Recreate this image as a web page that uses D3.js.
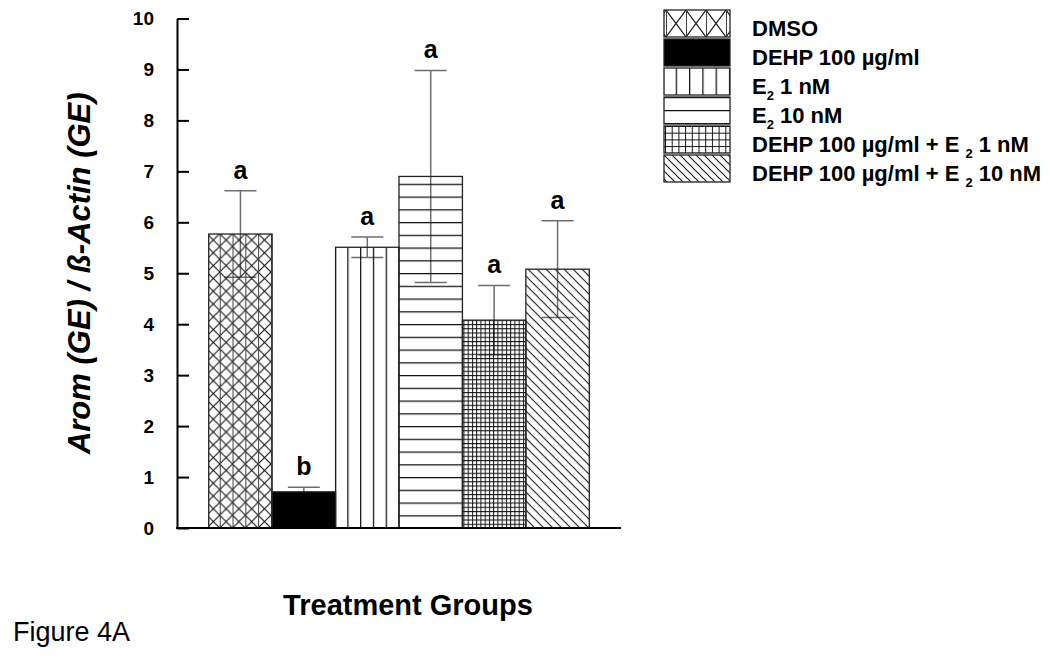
<!DOCTYPE html>
<html>
<head>
<meta charset="utf-8">
<script src="https://cdn.jsdelivr.net/npm/d3@7"></script>
<style>
  body { margin: 0; background: #fff; }
  svg { display: block; font-family: "Liberation Sans", Arial, sans-serif; }
</style>
</head>
<body>
<svg id="chart" width="1050" height="656"></svg>
<script>
// data
let groups = ["DMSO", "DEHP 100 µg/ml", "E2 1 nM", "E2 10 nM", "DEHP 100 µg/ml + E2 1 nM", "DEHP 100 µg/ml + E2 10 nM"];
let means = [5.77, 0.71, 5.51, 6.90, 4.08, 5.08];
let errors = [0.85, 0.09, 0.20, 2.08, 0.68, 0.95];
let letters = ["a", "b", "a", "a", "a", "a"];
let fills = ["cross", "solid", "vert", "horiz", "grid", "diag"];
let yTicks = [0, 1, 2, 3, 4, 5, 6, 7, 8, 9, 10];
// legend text, split where the subscript 2 goes
let legendParts = [
  [{t: "DMSO"}],
  [{t: "DEHP 100 µg/ml"}],
  [{t: "E"}, {t: "2", sub: true}, {t: " 1 nM"}],
  [{t: "E"}, {t: "2", sub: true}, {t: " 10 nM"}],
  [{t: "DEHP 100 µg/ml + E "}, {t: "2", sub: true}, {t: " 1 nM"}],
  [{t: "DEHP 100 µg/ml + E "}, {t: "2", sub: true}, {t: " 10 nM"}]
];

let margin = {top: 18.5, bottom: 528, left: 177, right: 621};

let svg = d3.select("#chart");
let defs = svg.append("defs");

let x = d3.scaleBand(groups, [margin.left, margin.right]).paddingInner(0).paddingOuter(0.5);
let y = d3.scaleLinear([0, 10], [margin.bottom, margin.top]);

// pattern tiles; sizes differ a bit between bars and legend swatches
function makePattern(id, kind, x0, y0, big) {
  let p = defs.append("pattern")
    .attr("id", id)
    .attr("patternUnits", "userSpaceOnUse");
  let line = "#111";
  if (kind == "cross") {
    let w = big ? 20 : 12.8, h = big ? 27 : 12.8;
    p.attr("width", w).attr("height", h).attr("x", x0 + (big ? 2 : 11)).attr("y", y0);
    p.append("path")
      .attr("d", `M0,0L${w},${h}M${w},0L0,${h}`)
      .attr("stroke", line).attr("stroke-width", 1.1).attr("fill", "none");
    p.append("path")
      .attr("d", `M0.5,0V${h}`)
      .attr("stroke", "#444").attr("stroke-width", 1.1);
  } else if (kind == "vert") {
    let w = big ? 13.3 : 12.8;
    p.attr("width", w).attr("height", 10).attr("x", x0 + 11.7).attr("y", 0);
    p.append("path").attr("d", "M0.6,0V10").attr("stroke", line).attr("stroke-width", 1.3);
  } else if (kind == "horiz") {
    let h = big ? 13 : 12.75;
    p.attr("width", 10).attr("height", h).attr("x", 0).attr("y", y0);
    p.append("path").attr("d", "M0,0.6H10").attr("stroke", line).attr("stroke-width", 1.3);
  } else if (kind == "grid") {
    let s = big ? 6.7 : 4.25;
    p.attr("width", s).attr("height", s).attr("x", x0 + 1).attr("y", y0);
    p.append("path").attr("d", `M0.5,0V${s}M0,0.5H${s}`).attr("stroke", line).attr("stroke-width", 1);
  } else if (kind == "diag") {
    let s = big ? 8 : 9;
    p.attr("width", s).attr("height", s).attr("x", x0).attr("y", y0);
    p.append("path")
      .attr("d", `M-1,-1L${s + 1},${s + 1}M-1,${s - 1}L1,${s + 1}M${s - 1},-1L${s + 1},1`)
      .attr("stroke", "#222").attr("stroke-width", 1.2).attr("fill", "none");
  }
}

function fillFor(kind, id) {
  return kind == "solid" ? "#000" : `url(#${id})`;
}

groups.forEach((g, i) => {
  makePattern("bar" + i, fills[i], x(g), y(0), false);
});

// error bars first: the pattern gaps are see-through, like the original
let eb = svg.append("g")
  .attr("stroke", "#6e6e6e")
  .attr("stroke-width", 1.5)
  .attr("fill", "none");
let capW = 16;
groups.forEach((g, i) => {
  let cx = x(g) + x.bandwidth() / 2;
  let hi = y(means[i] + errors[i]), lo = y(means[i] - errors[i]);
  eb.append("path")
    .attr("d", `M${cx},${lo}V${hi}M${cx - capW},${hi}H${cx + capW}M${cx - capW},${lo}H${cx + capW}`);
});

svg.append("g")
  .selectAll("rect")
  .data(groups)
  .join("rect")
  .attr("x", d => x(d))
  .attr("width", x.bandwidth())
  .attr("y", (d, i) => y(means[i]))
  .attr("height", (d, i) => y(0) - y(means[i]))
  .attr("fill", (d, i) => fillFor(fills[i], "bar" + i))
  .attr("stroke", "#222")
  .attr("stroke-width", 1.3);

// significance letters
svg.append("g")
  .attr("font-size", "25px")
  .attr("font-weight", "bold")
  .attr("text-anchor", "middle")
  .selectAll("text")
  .data(groups)
  .join("text")
  .attr("x", d => x(d) + x.bandwidth() / 2)
  .attr("y", (d, i) => y(means[i] + errors[i]) - 12)
  .text((d, i) => letters[i]);

// y axis, ticks pointing in
let yAxis = d3.axisLeft(y)
  .tickValues(yTicks)
  .tickFormat(d3.format("d"))
  .tickSizeInner(-12)
  .tickSizeOuter(0)
  .tickPadding(23);
let ya = svg.append("g")
  .attr("transform", `translate(${margin.left},0)`)
  .call(yAxis);
ya.attr("font-size", null).attr("font-family", null);
ya.select(".domain").attr("stroke", "#000").attr("stroke-width", 2);
ya.selectAll(".tick line").attr("stroke", "#000").attr("stroke-width", 2);
ya.selectAll(".tick text")
  .style("font-size", "19px")
  .style("font-weight", "bold")
  .attr("fill", "#000");

// base line
svg.append("line")
  .attr("x1", margin.left - 1).attr("x2", margin.right)
  .attr("y1", y(0)).attr("y2", y(0))
  .attr("stroke", "#000").attr("stroke-width", 2);

// axis titles
svg.append("text")
  .attr("transform", `translate(90,${(margin.top + margin.bottom) / 2}) rotate(-90)`)
  .attr("text-anchor", "middle")
  .attr("font-size", "31px")
  .attr("font-weight", "bold")
  .attr("font-style", "italic")
  .text("Arom (GE) / ß-Actin (GE)");

svg.append("text")
  .attr("x", 408)
  .attr("y", 615)
  .attr("text-anchor", "middle")
  .attr("font-size", "29px")
  .attr("font-weight", "bold")
  .text("Treatment Groups");

svg.append("text")
  .attr("x", 13)
  .attr("y", 641)
  .attr("font-size", "27px")
  .text("Figure 4A");

// legend
let lgX = 664, lgW = 66, lgH = 27, lgTop = 10, lgStep = 29;
let legend = svg.append("g");
groups.forEach((g, i) => {
  let ty = lgTop + i * lgStep;
  makePattern("lg" + i, fills[i], lgX, ty, true);
  legend.append("rect")
    .attr("x", lgX).attr("y", ty)
    .attr("width", lgW).attr("height", lgH)
    .attr("fill", fillFor(fills[i], "lg" + i))
    .attr("stroke", "#222")
    .attr("stroke-width", 1.3);
  let t = legend.append("text")
    .attr("x", 752)
    .attr("y", ty + lgH - 1)
    .attr("font-size", "22px")
    .attr("font-weight", "bold");
  legendParts[i].forEach(part => {
    if (part.sub) {
      t.append("tspan").attr("font-size", "13px").attr("dy", 6).text(part.t);
    } else {
      let s = t.append("tspan").text(part.t);
      if (t.selectAll("tspan").size() > 1) s.attr("dy", -6);
    }
  });
});
</script>
</body>
</html>
